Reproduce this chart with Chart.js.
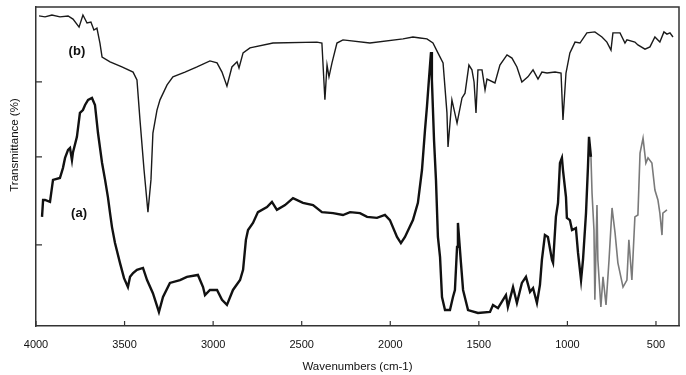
<!DOCTYPE html>
<html>
<head>
<meta charset="utf-8">
<script src="https://cdn.jsdelivr.net/npm/chart.js@4.4.0/dist/chart.umd.min.js"></script>
<style>
  html, body { margin: 0; padding: 0; background: #fff; }
  #wrap { width: 686px; height: 375px; position: relative; }
</style>
</head>
<body>
<div id="wrap"><canvas id="c"></canvas></div>
<script>
// ---- data ----
const X_TICKS = [4000, 3500, 3000, 2500, 2000, 1500, 1000, 500];
const Y_TICK_MARKS = [25.4, 53.0, 76.5];
const X_TITLE = 'Wavenumbers (cm-1)';
const Y_TITLE = 'Transmittance (%)';
const LABEL_A = '(a)';
const LABEL_B = '(b)';

const waveB = [3983,3949,3910,3865,3819,3791,3757,3735,3712,3690,3673,3656,3639,3627,3582,3515,3452,3430,3413,3390,3368,3351,3340,3317,3300,3260,3227,3159,3091,3018,2978,2950,2922,2894,2865,2854,2831,2792,2662,2414,2386,2369,2357,2346,2329,2301,2267,2115,1928,1872,1832,1793,1759,1731,1702,1680,1674,1652,1623,1595,1578,1556,1539,1527,1516,1505,1482,1465,1454,1409,1381,1341,1313,1285,1257,1223,1194,1166,1144,1115,1070,1036,1025,1008,986,957,929,890,845,805,777,754,743,703,675,664,619,602,562,534,506,478,455,438,421,404];
const transB = [97.2,96.9,97.5,96.9,97.2,96.2,93.7,97.5,95.0,95.3,92.8,93.4,88.7,84.3,82.8,81.2,79.6,77.1,64.6,48.9,35.7,45.8,60.5,67.7,70.9,75.6,78.1,79.6,81.2,83.1,82.5,79.6,75.2,81.2,82.8,80.9,85.6,87.2,88.7,89.0,88.7,70.9,81.8,78.1,82.5,88.7,89.7,88.7,90.0,90.6,90.3,90.0,88.7,85.6,82.5,66.8,56.1,70.9,63.6,71.5,73.0,81.8,80.3,76.5,66.8,80.3,80.3,74.0,77.4,76.2,81.8,85.0,84.0,81.2,76.5,78.1,80.3,77.4,79.6,79.3,79.6,79.3,64.6,79.3,85.6,89.0,88.7,91.9,92.2,90.6,89.0,86.5,91.9,91.9,88.7,89.7,89.0,88.1,86.8,87.5,90.6,89.0,92.2,91.5,91.9,90.6];

const waveA = [3966,3960,3949,3921,3904,3865,3848,3836,3819,3808,3797,3791,3769,3752,3735,3723,3706,3684,3667,3650,3627,3610,3594,3582,3571,3554,3526,3503,3481,3469,3452,3430,3396,3373,3340,3306,3283,3244,3187,3148,3086,3057,3046,3018,2978,2950,2922,2888,2848,2831,2815,2803,2775,2747,2696,2668,2640,2594,2549,2493,2436,2386,2323,2267,2227,2171,2131,2075,2030,2002,1962,1940,1917,1872,1844,1821,1804,1793,1782,1770,1765,1753,1742,1731,1719,1708,1691,1663,1646,1635,1623,1618,1601,1589,1561,1505,1437,1420,1392,1347,1336,1307,1285,1257,1234,1211,1194,1172,1155,1144,1127,1110,1087,1081,1065,1053,1042,1031,1025,1008,1003,986,974,952,940,923,912,895,884,878,867,861,850,845,833,828,811,799,782,765,748,731,715,686,664,653,636,619,602,590,573,557,545,523,506,489,478,466,461,438];
const transA = [34.2,39.5,39.5,38.9,45.8,46.4,49.5,52.7,55.2,55.8,52.0,54.5,59.3,66.8,67.7,69.3,70.9,71.5,69.3,60.5,51.1,45.8,40.4,35.4,31.0,26.0,19.8,15.0,12.2,15.4,16.6,17.6,18.2,14.4,10.3,4.4,9.1,13.5,14.4,15.4,16.0,12.2,9.7,11.3,11.3,8.2,6.6,11.3,14.4,17.6,27.0,30.1,32.3,35.7,37.3,38.9,36.4,37.9,40.1,38.6,37.9,35.7,35.4,34.8,35.7,35.4,34.2,33.9,34.8,33.2,27.9,26.0,27.9,33.2,38.6,48.9,61.4,68.7,77.1,85.9,77.1,58.3,45.8,27.9,21.6,9.1,5.0,5.0,9.1,11.3,24.8,32.3,19.8,11.3,5.0,4.1,4.4,6.6,5.6,9.7,6.0,12.2,7.2,13.5,15.4,10.7,11.9,7.2,12.9,20.7,28.5,27.9,20.7,19.8,34.2,38.6,51.1,52.7,48.9,40.4,33.9,33.2,30.1,30.7,22.9,14.4,20.7,35.4,49.8,59.3,53.0,41.7,30.1,8.2,37.9,20.7,6.0,15.4,6.6,20.7,37.0,29.2,19.8,12.2,14.4,27.0,14.4,34.2,34.8,54.2,58.9,51.1,52.7,51.1,42.6,39.5,35.4,28.5,35.4,36.4];

const GRAY_BELOW = 870; // part of trace (a) printed lighter in the reference

const toPoints = (xs, ys) => xs.map((x, i) => ({ x: x, y: ys[i] }));

const decor = {
  id: 'decor',
  afterDraw(chart) {
    const { ctx, chartArea: a, scales } = chart;
    ctx.save();
    ctx.strokeStyle = '#333';
    ctx.lineWidth = 1.5;
    // top and right frame
    ctx.beginPath();
    ctx.moveTo(a.left, a.top); ctx.lineTo(a.right, a.top); ctx.lineTo(a.right, a.bottom);
    ctx.stroke();
    // inward ticks
    ctx.lineWidth = 1.2;
    ctx.beginPath();
    scales.x.ticks.forEach(t => {
      const px = scales.x.getPixelForValue(t.value);
      ctx.moveTo(px, a.bottom); ctx.lineTo(px, a.bottom - 5);
    });
    scales.y.ticks.forEach(t => {
      const py = scales.y.getPixelForValue(t.value);
      ctx.moveTo(a.left, py); ctx.lineTo(a.left + 6, py);
    });
    ctx.stroke();
    // y title
    ctx.fillStyle = '#111';
    ctx.font = '11.5px "Liberation Sans", Arial, sans-serif';
    ctx.textAlign = 'center';
    ctx.textBaseline = 'middle';
    ctx.translate(15, 145);
    ctx.rotate(-Math.PI / 2);
    ctx.fillText(Y_TITLE, 0, 0);
    ctx.restore();
    // series labels
    ctx.save();
    ctx.fillStyle = '#111';
    ctx.font = 'bold 13px "Liberation Sans", Arial, sans-serif';
    ctx.textAlign = 'center';
    ctx.textBaseline = 'middle';
    ctx.fillText(LABEL_B, scales.x.getPixelForValue(3769), scales.y.getPixelForValue(86.2));
    ctx.fillText(LABEL_A, scales.x.getPixelForValue(3757), scales.y.getPixelForValue(35.4));
    ctx.restore();
  }
};

new Chart(document.getElementById('c'), {
  type: 'line',
  data: {
    datasets: [
      {
        label: 'b',
        data: toPoints(waveB, transB),
        borderColor: '#1a1a1a',
        borderWidth: 1.4,
        pointRadius: 0,
        tension: 0
      },
      {
        label: 'a',
        data: toPoints(waveA, transA),
        borderColor: '#111',
        borderWidth: 2.4,
        pointRadius: 0,
        tension: 0,
        segment: {
          borderColor: c => (c.p0.parsed.x < GRAY_BELOW ? '#7a7a7a' : '#111'),
          borderWidth: c => (c.p0.parsed.x < GRAY_BELOW ? 1.6 : 2.4)
        }
      }
    ]
  },
  options: {
    responsive: true,
    maintainAspectRatio: false,
    animation: false,
    layout: { padding: { top: 7, right: 7, left: 0, bottom: 0 } },
    plugins: { legend: { display: false }, tooltip: { enabled: false } },
    scales: {
      x: {
        type: 'linear',
        min: 370,
        max: 4000,
        reverse: true,
        afterBuildTicks: s => { s.ticks = X_TICKS.map(v => ({ value: v })); },
        afterFit: s => { s.height = 49; },
        grid: { display: false, drawTicks: false },
        border: { display: true, color: '#333', width: 1.5 },
        ticks: {
          color: '#111',
          padding: 12,
          maxRotation: 0,
          autoSkip: false,
          font: { family: '"Liberation Sans", Arial, sans-serif', size: 11 },
          callback: v => String(v)
        },
        title: {
          display: true,
          text: X_TITLE,
          color: '#111',
          font: { family: '"Liberation Sans", Arial, sans-serif', size: 11.5 },
          padding: { top: 0, bottom: 1 }
        }
      },
      y: {
        type: 'linear',
        min: 0,
        max: 100,
        afterBuildTicks: s => { s.ticks = Y_TICK_MARKS.map(v => ({ value: v })); },
        afterFit: s => { s.width = 36; },
        grid: { display: false, drawTicks: false },
        border: { display: true, color: '#333', width: 1.5 },
        ticks: { display: false }
      }
    }
  },
  plugins: [decor]
});
</script>
</body>
</html>
